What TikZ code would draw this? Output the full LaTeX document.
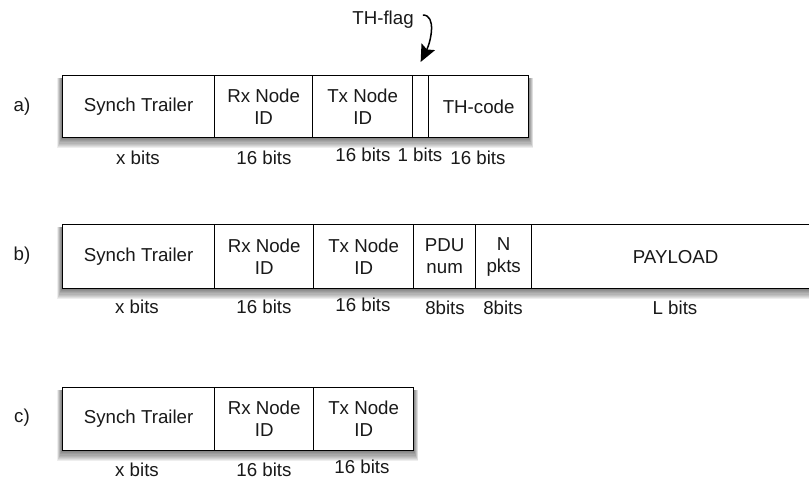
\documentclass[tikz,border=0pt]{standalone}
\usepackage{fontspec}
\setmainfont{Liberation Sans}
\usetikzlibrary{arrows.meta,calc}
\newcommand\rowshadow[4]{%
  \foreach \i in {1,...,10}{%
    \fill[black, opacity=0.065] ({#1-\i*0.5},{#2+3}) rectangle ({#3+\i*0.5},{#4+\i*1.1});
  }}
\begin{document}
\begin{tikzpicture}[x=1pt,y=-1pt,
  txt/.style={font=\fontsize{18.7}{22}\selectfont, text=black!90},
  field/.style={txt, draw=black, line width=1.3pt, fill=white, anchor=north west,
    inner sep=0pt, align=center},
  lbl/.style={txt, inner sep=0pt}]
\clip (0,0) rectangle (809,481);
\fill[white] (0,0) rectangle (809,481);
% shadows
\rowshadow{62}{75}{528}{137}
\rowshadow{62}{224}{830}{288}
\rowshadow{62}{387}{413}{450}
% row a
\node[field, minimum width=152pt, minimum height=62pt] (a1) at (62,75) {Synch Trailer};
\node[field, minimum width=98pt, minimum height=62pt] (a2) at (214,75) {Rx Node\\ID};
\node[field, minimum width=100pt, minimum height=62pt] (a3) at (312,75) {Tx Node\\ID};
\node[field, minimum width=16pt, minimum height=62pt] (a4) at (412,75) {};
\node[field, minimum width=100pt, minimum height=62pt] (a5) at (428,75) {TH-code};
\node[lbl] (sa) at (22,107) {a)};
\node[lbl] (la1) at (138,158) {x bits};
\node[lbl] (la2) at (264,158) {16 bits};
\node[lbl] (la3) at (363,155) {16 bits};
\node[lbl] (la4) at (420,155) {1 bits};
\node[lbl] (la5) at (478,158) {16 bits};
\node[lbl] (flag) at (383,20) {TH-flag};
\draw[line width=1.5pt, -{Stealth[length=17pt,width=15pt,inset=3pt]}]
  ($(flag.east)+(9,-5)$) .. controls +(14,0) and +(10,-20) .. ($(a4.north)+(0,-13)$);
% row b
\node[field, minimum width=152pt, minimum height=64pt] (b1) at (62,224) {Synch Trailer};
\node[field, minimum width=99pt, minimum height=64pt] (b2) at (214,224) {Rx Node\\ID};
\node[field, minimum width=100pt, minimum height=64pt] (b3) at (313,224) {Tx Node\\ID};
\node[field, minimum width=62pt, minimum height=64pt] (b4) at (413,224) {PDU\\num};
\node[field, minimum width=56pt, minimum height=64pt] (b5) at (475,224) {N\\pkts};
\node[field, minimum width=288pt, minimum height=64pt] (b6) at (531,224) {PAYLOAD};
\node[lbl] (sb) at (22,256) {b)};
\node[lbl] (lb1) at (137,307) {x bits};
\node[lbl] (lb2) at (264,307) {16 bits};
\node[lbl] (lb3) at (363,305) {16 bits};
\node[lbl] (lb4) at (445,308) {8bits};
\node[lbl] (lb5) at (503,308) {8bits};
\node[lbl] (lb6) at (675,308) {L bits};
% row c
\node[field, minimum width=152pt, minimum height=63pt] (c1) at (62,387) {Synch Trailer};
\node[field, minimum width=99pt, minimum height=63pt] (c2) at (214,387) {Rx Node\\ID};
\node[field, minimum width=100pt, minimum height=63pt] (c3) at (313,387) {Tx Node\\ID};
\node[lbl] (sc) at (22,418) {c)};
\node[lbl] (lc1) at (137,470) {x bits};
\node[lbl] (lc2) at (264,470) {16 bits};
\node[lbl] (lc3) at (362,467) {16 bits};
\end{tikzpicture}
\end{document}
